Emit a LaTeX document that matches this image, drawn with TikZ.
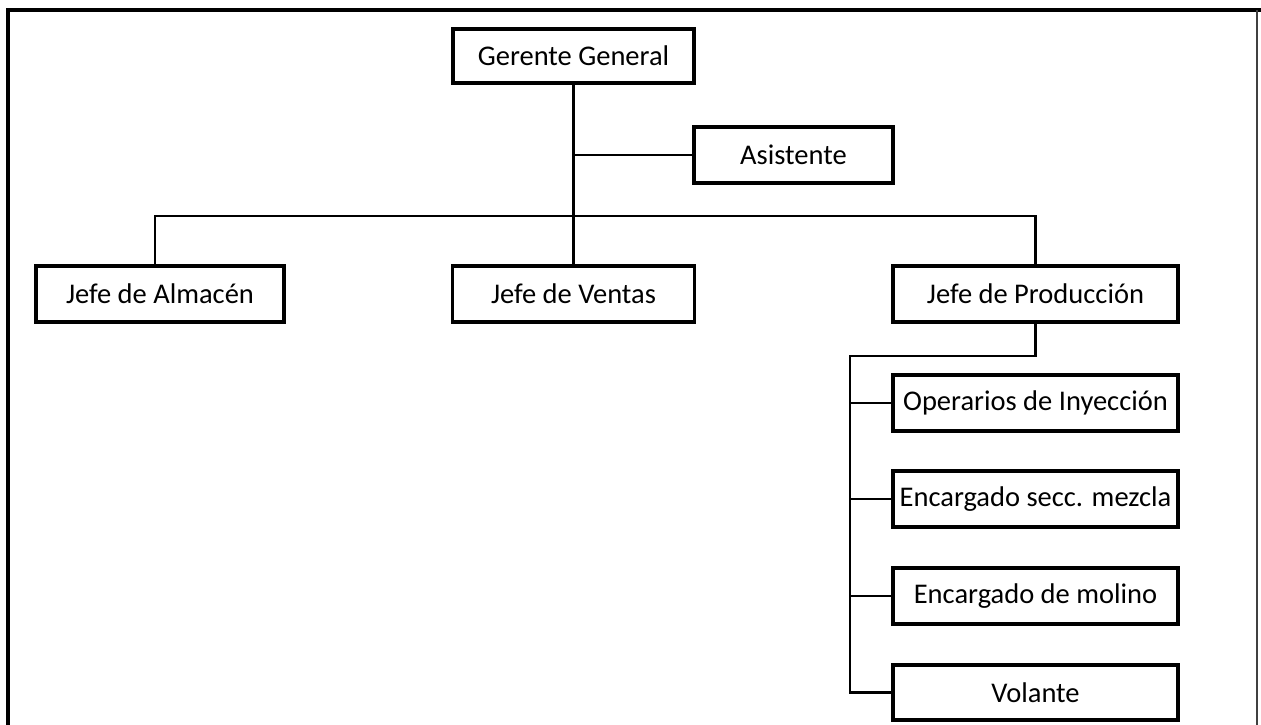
\documentclass[tikz,border=0pt]{standalone}
\usepackage{fontspec}
\setmainfont{Carlito}
\begin{document}
\begin{tikzpicture}[x=1pt,y=-1pt,
  box/.style={draw=black,line width=3.2pt,fill=white,minimum height=56pt,
    inner sep=0pt,font=\fontsize{28.5}{34}\selectfont},
  link/.style={draw=black,line width=2.2pt},
  frameline/.style={draw=black,line width=3.6pt}]
\useasboundingbox (0,0) rectangle (1261,725);

% outer frame
\coordinate (fbl) at (8,725);
\coordinate (ftl) at (8,10);
\coordinate (ftr) at (1261,10);
\draw[frameline] (fbl) -- (ftl) -- (ftr);
\coordinate (frt) at (1257,10);
\coordinate (frb) at (1257,725);
\draw[draw=black!75,line width=1.3pt] (frt) -- (frb);

% connectors (drawn first, boxes sit on top)
\coordinate (trunk) at (573.5,56);
\coordinate (bar) at (573.5,216);
\coordinate (spine) at (850,356);

% top level
\node[box,minimum width=241pt,minimum height=54pt] (gg) at (trunk) {Gerente General};
\node[box,minimum width=199pt] (asis) at (793.5,155) {Asistente};

% second level
\node[box,minimum width=248pt] (alm)  at (160,294)    {Jefe de Almacén};
\node[box,minimum width=242pt] (ven)  at (573.5,294)  {Jefe de Ventas};
\node[box,minimum width=285pt] (prod) at (1035.5,294) {Jefe de Producción};

% production staff
\node[box,minimum width=285pt] (oper) at (1035.5,403) {Operarios de Inyección};
\node[box,minimum width=285pt] (secc) at (1035.5,499) {Encargado secc. mezcla};
\node[box,minimum width=285pt] (mol)  at (1035.5,596) {Encargado de molino};
\node[box,minimum width=285pt,minimum height=55pt] (vol) at (1035.5,692.5) {Volante};

\draw[link] (gg.south) -- (ven.north);
\draw[link] (gg.south |- asis.west) -- (asis.west);
\draw[link] ([xshift=-5pt]alm.north) |- (prod.north |- bar) -- (prod.north);
\draw[link] (prod.south) |- (spine) -- (spine |- vol.west) -- (vol.west);
\draw[link] (spine |- oper.west) -- (oper.west);
\draw[link] (spine |- secc.west) -- (secc.west);
\draw[link] (spine |- mol.west) -- (mol.west);
\end{tikzpicture}
\end{document}
